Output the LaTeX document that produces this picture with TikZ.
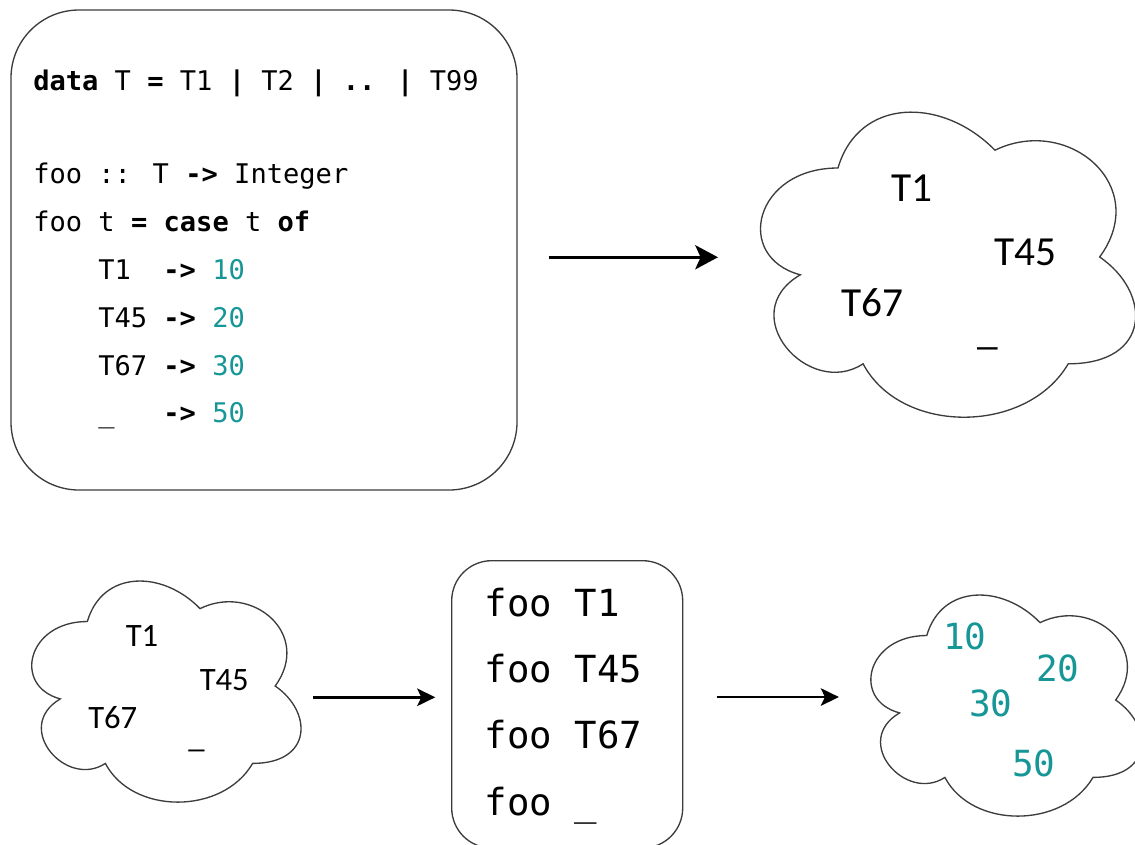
\documentclass[tikz,border=0pt]{standalone}
\usepackage{fontspec}
\setmainfont{Carlito}
\newfontfamily\codefont{DejaVu Sans Mono}
\usetikzlibrary{arrows.meta}
\definecolor{numteal}{RGB}{22,150,150}
\definecolor{outline}{RGB}{60,60,60}
\newcommand\cloudoutline{(0.25,0.25) .. controls (0.05,0.25) and (0,0.5) .. (0.16,0.55)
  .. controls (0,0.66) and (0.18,0.9) .. (0.31,0.8)
  .. controls (0.4,1) and (0.7,1) .. (0.8,0.8)
  .. controls (1,0.8) and (1,0.6) .. (0.875,0.5)
  .. controls (1,0.3) and (0.8,0.1) .. (0.625,0.2)
  .. controls (0.5,0.05) and (0.3,0.05) .. (0.25,0.25) -- cycle}
\tikzset{
  codeline/.style={anchor=base west, inner sep=0pt, font=\codefont\fontsize{20.3pt}{24pt}\selectfont},
  calltext/.style={anchor=base west, inner sep=0pt, font=\codefont\fontsize{28pt}{32pt}\selectfont},
  bigtag/.style={anchor=base west, inner sep=0pt, font=\fontsize{31pt}{36pt}\selectfont},
  smalltag/.style={anchor=base west, inner sep=0pt, font=\fontsize{24.5pt}{28pt}\selectfont},
  numtag/.style={anchor=base west, inner sep=0pt, text=numteal, font=\codefont\fontsize{27pt}{30pt}\selectfont},
  roundbox/.style={draw=outline, line width=1pt, inner sep=0pt},
  cloudline/.style={draw=outline, line width=1pt},
  cloudarea/.style={inner sep=0pt, anchor=north west},
  bigarrow/.style={-{Stealth[length=17pt,width=18pt,inset=4pt]}, line width=2.6pt},
  smallarrow/.style={-{Stealth[length=13.5pt,width=13pt,inset=3pt]}, line width=2.2pt},
}
\begin{document}
\begin{tikzpicture}[x=0.75pt,y=-0.75pt]
\useasboundingbox (0,0) rectangle (1135,844);

% code box
\node[roundbox, rounded corners=51pt, minimum width=379.5pt, minimum height=360pt] (codebox) at (264,250) {};
\node[codeline] (c1) at (33,90) {\textbf{data} T \textbf{=} T1 \textbf{|} T2 \textbf{|} \textbf{..} \textbf{|} T99};
\node[codeline] (c2) at (33,183) {foo :: T \textbf{->} Integer};
\node[codeline] (c3) at (33,231) {foo t \textbf{=} \textbf{case} t \textbf{of}};
\node[codeline] (c4) at (98,279) {T1~~\textbf{->} \textcolor{numteal}{10}};
\node[codeline] (c5) at (98,327) {T45 \textbf{->} \textcolor{numteal}{20}};
\node[codeline] (c6) at (98,375) {T67 \textbf{->} \textcolor{numteal}{30}};
\node[codeline] (c7) at (98,422) {\_~~~\textbf{->} \textcolor{numteal}{50}};

% big cloud
\node[cloudarea, minimum width=314pt, minimum height=267pt] (bigcloud) at (733.3,79) {};
\begin{scope}[shift={(bigcloud.north west)}, x=314pt, y=-267pt]
  \draw[cloudline] \cloudoutline;
\end{scope}
\node[bigtag] (b1) at (891,201.7) {T1};
\node[bigtag] (b45) at (994,265) {T45};
\node[bigtag] (b67) at (841,316.7) {T67};
\node[bigtag] (bu) at (977,344) {\_};

% small cloud (left)
\node[cloudarea, minimum width=225.4pt, minimum height=193.5pt] (cloudA) at (12.2,557) {};
\begin{scope}[shift={(cloudA.north west)}, x=225.4pt, y=-193.5pt]
  \draw[cloudline] \cloudoutline;
\end{scope}
\node[smalltag] (s1) at (125.5,646) {T1};
\node[smalltag] (s45) at (199.5,690.7) {T45};
\node[smalltag] (s67) at (88,728.3) {T67};
\node[smalltag] (su) at (188,747.5) {\_};

% middle box
\node[roundbox, rounded corners=30pt, minimum width=173.25pt, minimum height=215.5pt] (midbox) at (567.2,704.35) {};
\node[calltext] (m1) at (484.6,616.7) {foo~T1};
\node[calltext] (m2) at (484.6,682.8) {foo~T45};
\node[calltext] (m3) at (484.6,748.9) {foo~T67};
\node[calltext] (m4) at (484.6,815) {foo~\_};

% result cloud
\node[cloudarea, minimum width=226.65pt, minimum height=193.5pt] (cloudB) at (851.2,571) {};
\begin{scope}[shift={(cloudB.north west)}, x=226.65pt, y=-193.5pt]
  \draw[cloudline] \cloudoutline;
\end{scope}
\node[numtag] (n10) at (943,649.3) {10};
\node[numtag] (n20) at (1036,681.7) {20};
\node[numtag] (n30) at (969,716.7) {30};
\node[numtag] (n50) at (1012,776) {50};

% arrows
\draw[bigarrow, shorten <=23.25pt, shorten >=11.5pt] (codebox.east |- bigcloud.west) -- (bigcloud.west);
\draw[smallarrow, shorten >=11.8pt] ([yshift=-8.25pt]cloudA.east) -- ([yshift=-8.25pt]cloudA.east -| midbox.west);
\draw[smallarrow, shorten <=25pt, shorten >=9.2pt] ([yshift=5.5pt]midbox.east) -- ([yshift=5.5pt]midbox.east -| cloudB.west);
\end{tikzpicture}
\end{document}
